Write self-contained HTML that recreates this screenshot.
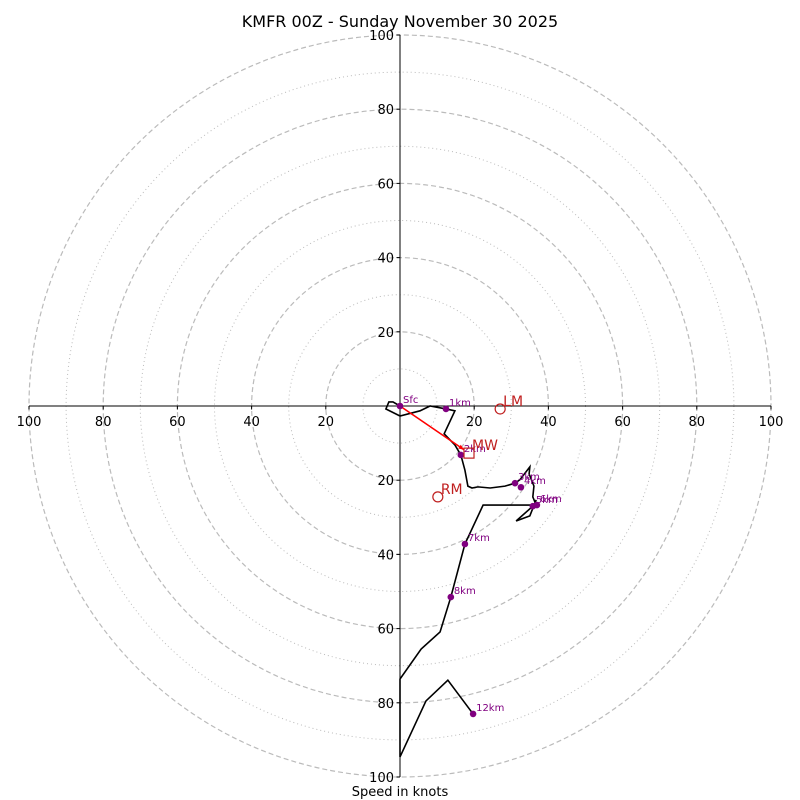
<!DOCTYPE html>
<html><head><meta charset="utf-8"><style>
body{margin:0;background:#fff}
svg{display:block;font-family:"DejaVu Sans","Liberation Sans",sans-serif}
</style></head><body>
<svg id="chart" width="800" height="800" viewBox="0 0 800 800"></svg>
<script>
const ringValues=[10,20,30,40,50,60,70,80,90,100];
const tickValues=[-100,-80,-60,-40,-20,20,40,60,80,100];
const traceU=[0,-1.9,-3.0,-3.8,0,5.4,8.1,12.4,14.8,11.9,14.8,16.4,17.5,18.3,19.4,21.0,24.3,28.3,31.0,32.3,35.0,34.8,36.1,35.8,36.7,35.8,31.3,35.0,36.7,36.2,22.4,17.5,13.7,10.8,5.7,0,0,7.0,12.9,19.7];
const traceV=[0,1.1,1.1,-0.8,-2.7,-1.3,0,-0.8,-1.3,-7.5,-10.5,-13.2,-17.3,-21.6,-22.1,-21.8,-22.1,-21.6,-20.8,-19.9,-16.4,-18.3,-21.6,-24.5,-26.7,-27.0,-31.0,-29.6,-25.3,-26.7,-26.7,-37.2,-51.5,-60.9,-65.5,-73.6,-94.6,-79.5,-73.9,-83.0];
const markerLabels=["Sfc","1km","2km","3km","4km","5km","6km","7km","8km","12km"];
const markerU=[0,12.4,16.4,31.0,32.6,35.8,36.9,17.5,13.7,19.7];
const markerV=[0,-0.8,-13.2,-20.8,-21.9,-27.0,-26.7,-37.2,-51.5,-83.0];
const motionLabels=["LM","RM","MW"];
const motionU=[27.0,10.2,18.6];
const motionV=[-0.8,-24.5,-12.7];

const cx=400,cy=406,k=3.71;
const X=u=>cx+u*k, Y=v=>cy-v*k;
const svg=document.getElementById('chart');
const NS='http://www.w3.org/2000/svg';
function mk(tag,attrs,parent){const e=document.createElementNS(NS,tag);for(const a in attrs)e.setAttribute(a,attrs[a]);(parent||svg).appendChild(e);return e;}

ringValues.forEach(r=>{
  const c=mk('circle',{cx:cx,cy:cy,r:r*k,fill:'none',stroke:'#bbb','stroke-width':r%20===0?1.2:1,'stroke-dasharray':r%20===0?'5,3':'1,3'});
  
  
});
let ax=mk('line',{x1:X(-100),y1:cy,x2:X(100),y2:cy,stroke:'#000','stroke-width':1});


let ay=mk('line',{x1:cx,y1:Y(100),x2:cx,y2:Y(-100),stroke:'#000','stroke-width':1});


tickValues.forEach(t=>{
  mk('line',{x1:X(t),y1:cy,x2:X(t),y2:cy+3.5,stroke:'#000'});
  const tx=mk('text',{x:X(t),y:cy+20,'font-size':13,'text-anchor':'middle'});
  tx.textContent=Math.abs(t);
  
  
  mk('line',{x1:cx-3.5,y1:Y(t),x2:cx,y2:Y(t),stroke:'#000'});
  const ty=mk('text',{x:cx-6,y:Y(t)+5,'font-size':13,'text-anchor':'end'});
  ty.textContent=Math.abs(t);
  
  
});
const pts=traceU.map((u,i)=>X(u)+','+Y(traceV[i])).join(' ');
const pl=mk('polyline',{points:pts,fill:'none',stroke:'#000','stroke-width':1.6,'stroke-linejoin':'miter'});


// mean wind arrow
const mx=X(motionU[2]),my=Y(motionV[2]);
const ang=Math.atan2(my-cy,mx-cx);
const ex=mx-6*Math.cos(ang),ey=my-6*Math.sin(ang);
const ar=mk('line',{x1:cx,y1:cy,x2:ex,y2:ey,stroke:'red','stroke-width':1.6});


mk('polygon',{points:`${ex},${ey} ${ex-6*Math.cos(ang-0.4)},${ey-6*Math.sin(ang-0.4)} ${ex-6*Math.cos(ang+0.4)},${ey-6*Math.sin(ang+0.4)}`,fill:'red'});
markerLabels.forEach((l,i)=>{
  const c=mk('circle',{cx:X(markerU[i]),cy:Y(markerV[i]),r:3.3,fill:'purple'});
  
  
  const t=mk('text',{x:X(markerU[i])+3,y:Y(markerV[i])-3,'font-size':10,fill:'purple'});
  t.textContent=l;
  
  
});
motionLabels.forEach((l,i)=>{
  const x=X(motionU[i]),y=Y(motionV[i]);
  let s;
  if(l==='MW') s=mk('rect',{x:x-5,y:y-5,width:10,height:10,fill:'none',stroke:'#c02020','stroke-width':1.2});
  else s=mk('circle',{cx:x,cy:y,r:5,fill:'none',stroke:'#c02020','stroke-width':1.2});
  
  
  const t=mk('text',{x:x+3,y:y-3,'font-size':14,fill:'#c02020'});
  t.textContent=l;
  
  
});
const title=mk('text',{x:400,y:27,'font-size':16,'text-anchor':'middle'});
title.textContent='KMFR 00Z - Sunday November 30 2025';


const xl=mk('text',{x:400,y:796,'font-size':13,'text-anchor':'middle'});
xl.textContent='Speed in knots';


</script>
</body></html>
